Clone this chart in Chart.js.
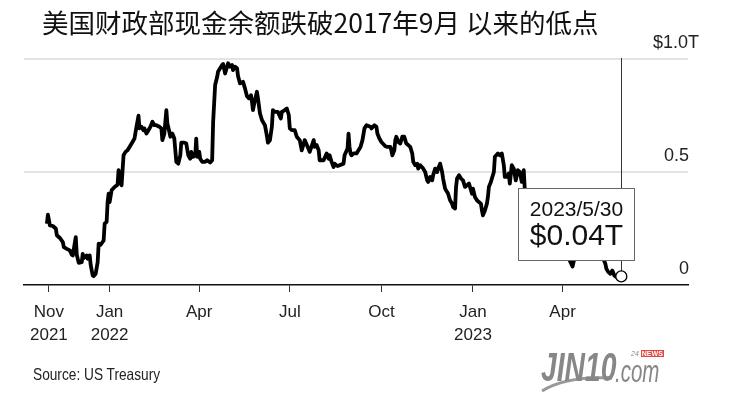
<!DOCTYPE html>
<html>
<head>
<meta charset="utf-8">
<script src="https://cdn.jsdelivr.net/npm/chart.js@4.4.1/dist/chart.umd.min.js"></script>
<style>
  body { margin: 0; background: #fff; }
  #wrap { position: relative; width: 735px; height: 407px; overflow: hidden; }
  #title { position: absolute; left: 42px; top: 9px; font-family: "Noto Sans CJK SC", sans-serif; font-size: 26.5px; line-height: 1; color: #111; white-space: nowrap; }
  #source { position: absolute; left: 33px; top: 366px; font-family: "Liberation Sans", Arial, sans-serif; font-size: 16.5px; line-height: 1; color: #222; white-space: nowrap; transform: scaleX(0.83); transform-origin: 0 0; }
  #logo { position: absolute; left: 538px; top: 345px; width: 130px; height: 50px; color: #878787; font-family: "Liberation Sans", Arial, sans-serif; white-space: nowrap; }
  #logo .j { position: absolute; left: 3px; top: 2px; font-size: 41px; font-weight: bold; font-style: italic; line-height: 1; transform: scaleX(0.69); transform-origin: 0 0; }
  #logo .c { position: absolute; left: 77px; top: 11px; font-size: 31px; font-style: italic; line-height: 1; transform: scaleX(0.66); transform-origin: 0 0; }
  #logo .n { position: absolute; left: 93px; top: 5px; font-size: 7px; line-height: 1; font-style: italic; }
  #logo .n b { background: #e2493d; color: #fff; padding: 0 1px; margin-left: 2px; font-weight: bold; font-style: normal; }
  #logo svg { position: absolute; left: 0; top: 0; }
</style>
</head>
<body>
<div id="wrap">
  <canvas id="myChart" width="735" height="407"></canvas>
  <div id="title">美国财政部现金余额跌破2017年9月 以来的低点</div>
  <div id="source">Source: US Treasury</div>
  <div id="logo">
    <svg width="130" height="50"><path d="M4,46 Q28,31 74,33" stroke="#9a9a9a" stroke-width="3" fill="none"/></svg>
    <span class="j">JIN10</span><span class="c">.com</span><span class="n">24<b>NEWS</b></span>
  </div>
</div>
<script>
// Treasury cash balance, trillions of dollars
var dates = [
  "2021-10-30", "2021-10-31", "2021-11-02", "2021-11-05", "2021-11-08", "2021-11-09", "2021-11-12", "2021-11-15",
  "2021-11-16", "2021-11-19", "2021-11-22", "2021-11-24", "2021-11-25", "2021-11-28", "2021-11-29", "2021-12-01",
  "2021-12-04", "2021-12-05", "2021-12-06", "2021-12-09", "2021-12-10", "2021-12-12", "2021-12-13", "2021-12-15",
  "2021-12-16", "2021-12-18", "2021-12-20", "2021-12-21", "2021-12-23", "2021-12-26", "2021-12-27", "2021-12-29",
  "2021-12-30", "2021-12-31", "2022-01-01", "2022-01-03", "2022-01-06", "2022-01-09", "2022-01-10", "2022-01-12",
  "2022-01-13", "2022-01-15", "2022-01-17", "2022-01-19", "2022-01-21", "2022-01-24", "2022-01-26", "2022-01-28",
  "2022-01-30", "2022-01-31", "2022-02-02", "2022-02-04", "2022-02-05", "2022-02-07", "2022-02-09", "2022-02-11",
  "2022-02-13", "2022-02-15", "2022-02-17", "2022-02-20", "2022-02-22", "2022-02-23", "2022-02-25", "2022-02-27",
  "2022-02-28", "2022-03-02", "2022-03-03", "2022-03-05", "2022-03-07", "2022-03-09", "2022-03-11", "2022-03-13",
  "2022-03-14", "2022-03-17", "2022-03-19", "2022-03-21", "2022-03-23", "2022-03-24", "2022-03-26", "2022-03-28",
  "2022-03-29", "2022-03-30", "2022-04-01", "2022-04-02", "2022-04-04", "2022-04-07", "2022-04-09", "2022-04-12",
  "2022-04-14", "2022-04-15", "2022-04-17", "2022-04-19", "2022-04-20", "2022-04-22", "2022-04-24", "2022-04-25",
  "2022-04-27", "2022-04-29", "2022-04-30", "2022-05-02", "2022-05-04", "2022-05-05", "2022-05-07", "2022-05-09",
  "2022-05-10", "2022-05-12", "2022-05-15", "2022-05-17", "2022-05-19", "2022-05-21", "2022-05-23", "2022-05-24",
  "2022-05-25", "2022-05-27", "2022-05-29", "2022-05-30", "2022-06-01", "2022-06-03", "2022-06-04", "2022-06-06",
  "2022-06-08", "2022-06-09", "2022-06-11", "2022-06-13", "2022-06-14", "2022-06-16", "2022-06-19", "2022-06-22",
  "2022-06-23", "2022-06-26", "2022-06-28", "2022-06-30", "2022-07-01", "2022-07-03", "2022-07-06", "2022-07-08",
  "2022-07-11", "2022-07-13", "2022-07-16", "2022-07-19", "2022-07-21", "2022-07-25", "2022-07-26", "2022-07-28",
  "2022-07-30", "2022-07-31", "2022-08-04", "2022-08-07", "2022-08-09", "2022-08-10", "2022-08-12", "2022-08-14",
  "2022-08-15", "2022-08-18", "2022-08-20", "2022-08-24", "2022-08-25", "2022-08-28", "2022-08-29", "2022-08-30",
  "2022-08-31", "2022-09-01", "2022-09-03", "2022-09-06", "2022-09-10", "2022-09-12", "2022-09-14", "2022-09-16",
  "2022-09-20", "2022-09-21", "2022-09-24", "2022-09-26", "2022-09-27", "2022-09-29", "2022-10-01", "2022-10-05",
  "2022-10-07", "2022-10-10", "2022-10-11", "2022-10-12", "2022-10-14", "2022-10-15", "2022-10-16", "2022-10-18",
  "2022-10-20", "2022-10-22", "2022-10-24", "2022-10-25", "2022-10-26", "2022-10-28", "2022-10-30", "2022-11-01",
  "2022-11-02", "2022-11-04", "2022-11-06", "2022-11-07", "2022-11-09", "2022-11-12", "2022-11-14", "2022-11-16",
  "2022-11-17", "2022-11-19", "2022-11-21", "2022-11-22", "2022-11-24", "2022-11-26", "2022-11-27", "2022-11-29",
  "2022-12-01", "2022-12-02", "2022-12-04", "2022-12-06", "2022-12-07", "2022-12-09", "2022-12-11", "2022-12-12",
  "2022-12-14", "2022-12-15", "2022-12-16", "2022-12-18", "2022-12-20", "2022-12-22", "2022-12-24", "2022-12-26",
  "2022-12-28", "2022-12-30", "2022-12-31", "2023-01-01", "2023-01-03", "2023-01-05", "2023-01-07", "2023-01-09",
  "2023-01-10", "2023-01-11", "2023-01-13", "2023-01-15", "2023-01-16", "2023-01-17", "2023-01-19", "2023-01-20",
  "2023-01-22", "2023-01-23", "2023-01-26", "2023-01-28", "2023-01-30", "2023-02-01", "2023-02-02", "2023-02-04",
  "2023-02-06", "2023-02-07", "2023-02-09", "2023-02-11", "2023-02-13", "2023-02-15", "2023-02-17", "2023-02-19",
  "2023-02-21", "2023-02-22", "2023-02-24", "2023-02-27", "2023-03-04", "2023-03-09", "2023-03-14", "2023-03-19",
  "2023-03-24", "2023-03-30", "2023-04-04", "2023-04-08", "2023-04-11", "2023-04-13", "2023-04-15", "2023-04-18",
  "2023-04-21", "2023-04-24", "2023-04-27", "2023-04-30", "2023-05-03", "2023-05-06", "2023-05-09", "2023-05-12",
  "2023-05-14", "2023-05-15", "2023-05-17", "2023-05-19", "2023-05-21", "2023-05-23", "2023-05-25", "2023-05-27",
  "2023-05-30"
];
var values = [
  0.271, 0.311, 0.264, 0.261, 0.249, 0.220, 0.208, 0.190,
  0.168, 0.160, 0.153, 0.134, 0.131, 0.212, 0.134, 0.098,
  0.101, 0.138, 0.119, 0.131, 0.116, 0.131, 0.089, 0.042,
  0.039, 0.050, 0.101, 0.183, 0.178, 0.197, 0.271, 0.279,
  0.367, 0.404, 0.367, 0.419, 0.434, 0.444, 0.508, 0.456,
  0.441, 0.574, 0.589, 0.596, 0.611, 0.633, 0.648, 0.700,
  0.749, 0.693, 0.700, 0.685, 0.693, 0.670, 0.685, 0.700,
  0.722, 0.707, 0.707, 0.700, 0.693, 0.641, 0.670, 0.774,
  0.715, 0.678, 0.656, 0.670, 0.648, 0.545, 0.537, 0.574,
  0.630, 0.630, 0.626, 0.574, 0.559, 0.589, 0.567, 0.574,
  0.648, 0.567, 0.589, 0.559, 0.545, 0.545, 0.552, 0.542,
  0.552, 0.722, 0.885, 0.920, 0.945, 0.959, 0.973, 0.978,
  0.936, 0.966, 0.981, 0.966, 0.973, 0.951, 0.966, 0.959,
  0.925, 0.892, 0.899, 0.870, 0.835, 0.826, 0.840, 0.811,
  0.774, 0.818, 0.855, 0.826, 0.760, 0.730, 0.722, 0.707,
  0.660, 0.630, 0.640, 0.700, 0.774, 0.766, 0.766, 0.737,
  0.766, 0.774, 0.781, 0.752, 0.693, 0.685, 0.685, 0.656,
  0.641, 0.596, 0.641, 0.611, 0.589, 0.641, 0.611, 0.619,
  0.596, 0.552, 0.552, 0.582, 0.559, 0.574, 0.545, 0.522,
  0.537, 0.526, 0.530, 0.537, 0.574, 0.604, 0.670, 0.611,
  0.582, 0.574, 0.582, 0.582, 0.611, 0.641, 0.693, 0.707,
  0.700, 0.693, 0.707, 0.700, 0.670, 0.648, 0.633, 0.614,
  0.611, 0.611, 0.596, 0.574, 0.596, 0.641, 0.656, 0.633,
  0.626, 0.656, 0.656, 0.641, 0.626, 0.619, 0.611, 0.582,
  0.545, 0.530, 0.537, 0.515, 0.530, 0.515, 0.500, 0.463,
  0.456, 0.478, 0.463, 0.486, 0.515, 0.500, 0.515, 0.537,
  0.500, 0.471, 0.426, 0.412, 0.404, 0.375, 0.360, 0.345,
  0.338, 0.434, 0.471, 0.486, 0.471, 0.463, 0.434, 0.441,
  0.449, 0.419, 0.404, 0.426, 0.389, 0.375, 0.367, 0.360,
  0.330, 0.308, 0.330, 0.360, 0.389, 0.434, 0.456, 0.471,
  0.500, 0.567, 0.582, 0.574, 0.582, 0.530, 0.478, 0.478,
  0.493, 0.449, 0.530, 0.515, 0.463, 0.508, 0.500, 0.456,
  0.508, 0.427, 0.400, 0.360, 0.300, 0.270, 0.250, 0.220,
  0.200, 0.170, 0.140, 0.110, 0.082, 0.120, 0.150, 0.220,
  0.280, 0.300, 0.270, 0.220, 0.180, 0.150, 0.130, 0.115,
  0.094, 0.072, 0.057, 0.050, 0.064, 0.042, 0.035, 0.042,
  0.038
];

// axis ticks
var xTickDates = ["2021-11-01", "2022-01-01", "2022-04-01", "2022-07-01", "2022-10-01", "2023-01-01", "2023-04-01"];
var xTickLabels = [["Nov", "2021"], ["Jan", "2022"], "Apr", "Jul", "Oct", ["Jan", "2023"], "Apr"];
var xRange = ["2021-10-07", "2023-08-05"];
var yTickValues = [0, 0.5, 1];
var yTickLabels = ["0\u2007", "0.5\u2007", "$1.0T"];

var labelFont = '"Liberation Sans", Arial, sans-serif';

// days since 2021-11-01, used as the linear x value
function dayNum(s) {
  var p = s.split("-");
  return (Date.UTC(+p[0], +p[1] - 1, +p[2]) - Date.UTC(2021, 10, 1)) / 864e5;
}

var points = dates.map(function (d, i) {
  return { x: dayNum(d), y: values[i] };
});
var last = values.length - 1;

//callout box for the latest value
var calloutPlugin = {
  id: "callout",
  beforeDatasetsDraw: function (chart) {
    var ctx = chart.ctx;
    var pt = chart.getDatasetMeta(0).data[last];
    var x = Math.round(pt.x) + 0.5;
    ctx.save();
    ctx.strokeStyle = "#333";
    ctx.lineWidth = 1;
    ctx.beginPath();
    ctx.moveTo(x, chart.chartArea.top - 1);
    ctx.lineTo(x, pt.y);
    ctx.stroke();
    ctx.restore();
  },
  afterDatasetsDraw: function (chart) {
    var ctx = chart.ctx;
    var pt = chart.getDatasetMeta(0).data[last];
    var w = 117, h = 73;
    var left = Math.round(pt.x + 14 - w), top = Math.round(pt.y - 88);
    var p = dates[last].split("-");
    ctx.save();
    ctx.fillStyle = "#fff";
    ctx.fillRect(left, top, w, h);
    ctx.strokeStyle = "#666";
    ctx.lineWidth = 1;
    ctx.strokeRect(left + 0.5, top + 0.5, w - 1, h - 1);
    ctx.fillStyle = "#111";
    ctx.textAlign = "center";
    ctx.textBaseline = "middle";
    ctx.font = "21px " + labelFont;
    ctx.fillText(+p[0] + "/" + +p[1] + "/" + +p[2], left + w / 2, top + 22);
    ctx.font = "30px " + labelFont;
    ctx.fillText("$" + values[last].toFixed(2) + "T", left + w / 2, top + 49);
    ctx.restore();
  },
};

var ctx = document.getElementById("myChart");
var myChart = new Chart(ctx, {
  type: "line",
  data: {
    datasets: [
      {
        data: points,
        borderColor: "#000",
        borderWidth: 3.8,
        borderJoinStyle: "round",
        tension: 0,
        pointRadius: function (c) {
          return c.dataIndex === last ? 5.5 : 0;
        },
        pointBackgroundColor: "#fff",
        pointBorderColor: "#000",
        pointBorderWidth: 1.3,
      },
    ],
  },
  options: {
    responsive: false,
    animation: false,
    events: [],
    layout: { padding: { left: 24, right: 47, top: 59, bottom: 62 } },
    plugins: { legend: { display: false }, tooltip: { enabled: false } },
    scales: {
      x: {
        type: "linear",
        min: dayNum(xRange[0]),
        max: dayNum(xRange[1]),
        afterBuildTicks: function (scale) {
          scale.ticks = xTickDates.map(function (d) {
            return { value: dayNum(d) };
          });
        },
        afterFit: function (scale) {
          scale.height = 60;
        },
        border: { display: true, color: "#111", width: 1.5 },
        grid: { drawOnChartArea: false, drawTicks: true, tickLength: 7, color: "#333", lineWidth: 1 },
        ticks: {
          maxRotation: 0,
          autoSkip: false,
          padding: 9,
          color: "#222",
          font: { family: labelFont, size: 17, lineHeight: 1.36 },
          callback: function (value, index) {
            return xTickLabels[index];
          },
        },
      },
      y: {
        position: "right",
        min: 0,
        max: 1,
        afterBuildTicks: function (scale) {
          scale.ticks = yTickValues.map(function (v) {
            return { value: v };
          });
        },
        afterFit: function (scale) {
          scale.width = 0;
        },
        border: { display: false },
        grid: {
          drawTicks: false,
          lineWidth: 2,
          color: function (c) {
            return c.tick && c.tick.value === 0 ? "rgba(0,0,0,0)" : "#e3e3e3";
          },
        },
        ticks: {
          mirror: true,
          padding: 11,
          labelOffset: -16,
          color: "#222",
          font: { family: labelFont, size: 18 },
          callback: function (value, index) {
            return yTickLabels[index];
          },
        },
      },
    },
  },
  plugins: [calloutPlugin],
});
</script>
</body>
</html>
